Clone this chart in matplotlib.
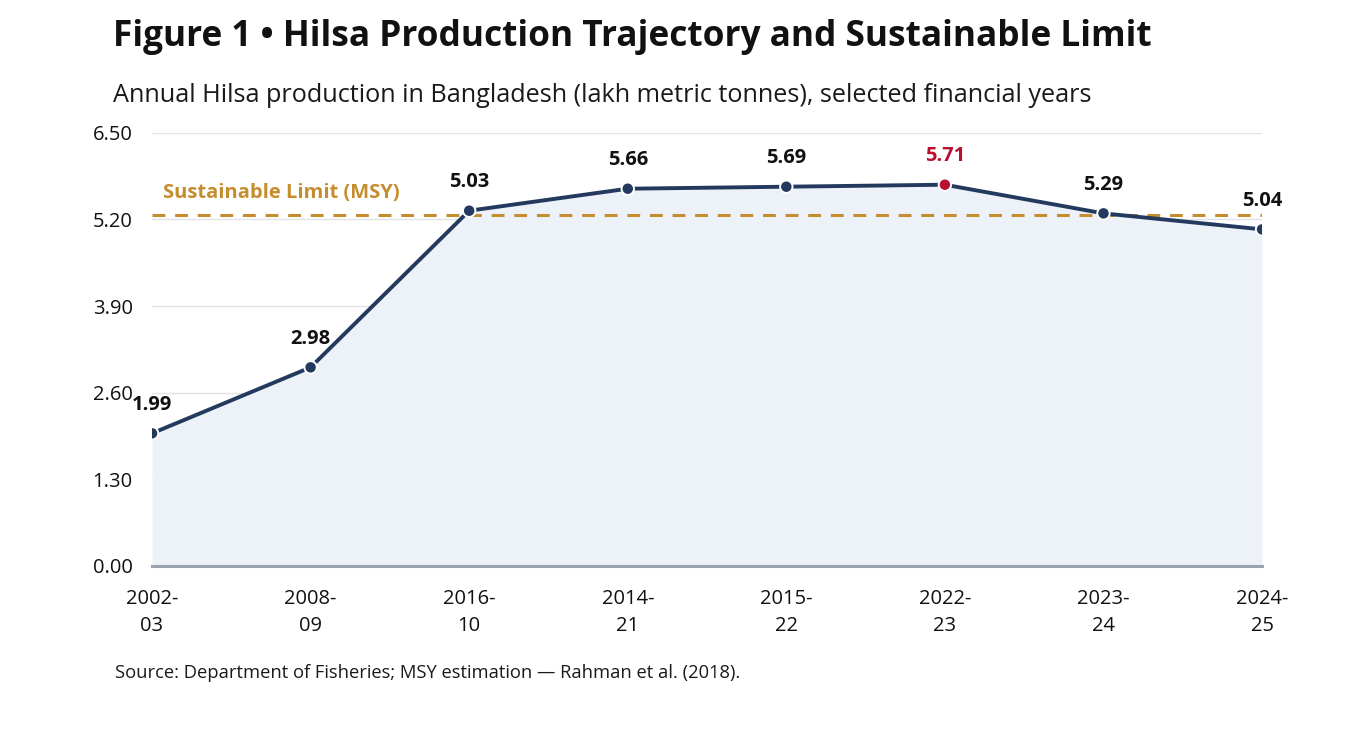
"""
Hilsa production trajectory vs. sustainable limit (MSY).
"""
import numpy as np
import matplotlib
matplotlib.use("Agg")
import matplotlib.pyplot as plt
from matplotlib import font_manager

# ----------------- data ------------------------------------------------------
years = ["2002-\n03", "2008-\n09", "2016-\n10", "2014-\n21", "2015-\n22",
         "2022-\n23", "2023-\n24", "2024-\n25"]
production = [1.99, 2.98, 5.33, 5.66, 5.69, 5.72, 5.29, 5.05]
value_labels = ["1.99", "2.98", "5.03", "5.66", "5.69", "5.71", "5.29", "5.04"]
msy_limit = 5.27
y_ticks = [0.00, 1.30, 2.60, 3.90, 5.20, 6.50]
highlight = "2022-\n23"

NAVY = "#233a5e"
RED = "#b8102e"
GOLD = "#c68d2e"
FILL = "#edf1f8"

# pick a family that actually ships a bold face
bold_ok = {f.name for f in font_manager.fontManager.ttflist
           if f.weight in (600, 700, "bold", "semibold")}
family = next((n for n in ["Noto Sans", "Open Sans", "Lato"] if n in bold_ok),
              "DejaVu Sans")
plt.rcParams["font.family"] = [family, "DejaVu Sans"]

fig = plt.figure(figsize=(13.66, 7.30), dpi=100)
ax = fig.add_axes([0.1113, 0.2247, 0.8126, 0.5935])

x = np.arange(len(years))
ax.fill_between(x, production, 0, color=FILL, zorder=2, linewidth=0)
ax.plot(x, production, color=NAVY, linewidth=2.8, zorder=4,
        solid_capstyle="round")
colors = [RED if yr == highlight else NAVY for yr in years]
ax.scatter(x, production, s=80, c=colors, edgecolors="white",
           linewidths=1.4, zorder=5)

for xi, v, lab, yr in zip(x, production, value_labels, years):
    ax.annotate(lab, xy=(xi, v), xytext=(0, 20.5), textcoords="offset points",
                ha="center", va="center", fontsize=14.5, fontweight="bold",
                color=RED if yr == highlight else "#111111", zorder=6)

# sustainable limit
ax.axhline(msy_limit, color=GOLD, linestyle=(0, (4.2, 3.2)), linewidth=2.2,
           zorder=3)
ax.text(0.07, msy_limit + 0.33, "Sustainable Limit (MSY)", color=GOLD,
        fontsize=14.5, fontweight="bold", ha="left", va="center", zorder=6)

# axes styling
ax.set_xlim(0, len(years) - 1)
ax.set_ylim(0, 6.5)
ax.set_xticks(x, years)
ax.set_yticks(y_ticks, [f"{t:.2f}" for t in y_ticks])
ax.tick_params(axis="both", length=0, labelsize=14.5, colors="#111111")
ax.tick_params(axis="x", pad=16.5)
ax.tick_params(axis="y", pad=14)
for lab in ax.get_xticklabels():
    lab.set_linespacing(1.45)
ax.grid(True, axis="y", color="#e3e3e3", linewidth=1.0, zorder=1)
ax.set_axisbelow(True)
for side in ["top", "right", "left"]:
    ax.spines[side].set_visible(False)
ax.spines["bottom"].set_color("#9aa4b0")
ax.spines["bottom"].set_linewidth(2.2)
ax.spines["bottom"].set_zorder(6)

fig.text(113 / 1366, 1 - 37 / 730,
         "Figure 1 \u2022 Hilsa Production Trajectory and Sustainable Limit",
         fontsize=25.4, fontweight="bold", ha="left", va="center",
         color="#111111")
fig.text(113 / 1366, 1 - 95 / 730,
         "Annual Hilsa production in Bangladesh (lakh metric tonnes), "
         "selected financial years",
         fontsize=18.2, ha="left", va="center", color="#1a1a1a")
fig.text(115 / 1366, 1 - 673 / 730,
         "Source: Department of Fisheries; MSY estimation \u2014 "
         "Rahman et al. (2018).",
         fontsize=13.25, ha="left", va="center", color="#1a1a1a")

fig.savefig("out.png", dpi=100)
